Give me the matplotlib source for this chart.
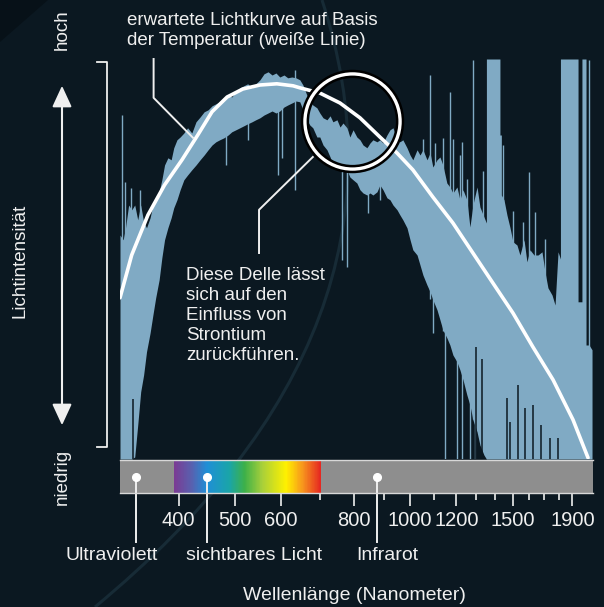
import matplotlib.pyplot as plt
import numpy as np
from matplotlib.colors import LinearSegmentedColormap
from matplotlib.patches import FancyArrowPatch, PathPatch, Polygon
from matplotlib.path import Path
from matplotlib.ticker import NullFormatter

plt.rcParams['font.family'] = ['Liberation Sans', 'DejaVu Sans']

BG = '#0b1821'
SPEC = '#80aac4'
TEXT = '#efefef'

# Gemessenes Spektrum als Band: Wellenlaenge (nm), obere / untere Kante (relative Intensitaet 0-100)
band_wl = [317, 321, 324, 328, 332, 336, 340, 344, 348, 352, 357, 361, 365, 370, 374,
           378, 383, 388, 392, 397, 402, 408, 414, 421, 428, 435, 442, 449, 456, 463,
           470, 478, 486, 493, 501, 509, 517, 525, 534, 542, 551, 560, 569, 578, 587,
           596, 606, 615, 625, 635, 645, 653, 663, 671, 679, 690, 698, 707, 718, 727,
           735, 747, 756, 765, 777, 786, 796, 808, 818, 828, 841, 851, 861, 875, 885,
           896, 910, 921, 932, 947, 958, 969, 985, 997, 1008, 1025, 1037, 1049, 1066, 1079,
           1091, 1109, 1122, 1135, 1153, 1167, 1181, 1200, 1214, 1229, 1248, 1263, 1278, 1299, 1314,
           1335, 1348, 1348, 1367, 1389, 1422, 1422, 1430, 1430, 1445, 1462, 1480, 1497, 1521, 1539,
           1564, 1582, 1601, 1627, 1653, 1679, 1699, 1719, 1747, 1768, 1789, 1806, 1806, 1839, 1875,
           1913, 1936, 1936, 1966, 1966, 1998, 1998, 2022, 2046]
band_top = [56, 54.8, 57.8, 63.5, 62.3, 63.5, 59.8, 63.5, 59.3, 57.8, 60.3, 63.5, 65.3, 66.8, 69.8,
            73.5, 75.3, 74.8, 77.8, 79.8, 80.5, 81.5, 82.8, 81.5, 84.3, 85.5, 86.8, 87.3, 88.3, 88.8,
            89.3, 90.3, 91, 90.5, 91.8, 92.8, 93.3, 93.8, 92.8, 93.8, 94.8, 96.3, 96.8, 96, 96.5,
            95.5, 96, 95.3, 95.5, 95.3, 94.8, 93.5, 91, 89.3, 88.5, 87.8, 86.5, 85.3, 84.8, 85.8,
            84.3, 84.8, 83, 84, 82.8, 80.5, 82.3, 80.5, 79.8, 78.5, 77.8, 79, 79.8, 79.3, 79.8,
            79, 81, 82.3, 82.8, 79.8, 79.3, 79.8, 77.8, 76, 74.8, 77.3, 76, 77.3, 74.8, 76.5,
            73, 74.8, 75.5, 73.5, 69, 68, 66.5, 68, 64.8, 67.3, 64.8, 58, 63.5, 68, 63,
            60.5, 59, 100, 100, 100, 100, 81, 81, 66, 64.8, 61, 57.8, 54.3, 53.5, 51,
            54.8, 49.3, 52.3, 51, 51, 51.8, 46.8, 42.8, 41, 38.5, 51.8, 50, 100, 100, 100,
            100, 100, 39.3, 39.3, 100, 100, 28.5, 28.5, 27.3]
band_bottom = [0, 0, 0, 0, 0, 0.5, 8.5, 16.8, 21, 26.8, 31.5, 36, 40.3, 44.8, 50.3,
               54.8, 57.8, 60.3, 62.8, 64.8, 67.3, 69.8, 71, 72.3, 73.5, 74.8, 76, 77.3, 78.5, 79.3,
               79.8, 80.3, 81, 81.8, 82.3, 82.8, 83.3, 83.8, 84.3, 84.8, 85.3, 86, 86.5, 87, 86.5,
               87, 88, 88.5, 89, 89.5, 89.3, 87.3, 84.8, 83.5, 82.8, 80.5, 80.5, 78.5, 77.3, 75.5,
               73.5, 72.8, 72.3, 71.8, 72.3, 70.5, 69.8, 69, 67.3, 66.5, 66, 66.5, 66, 66.8, 68.5,
               67.3, 65.3, 64.8, 63.5, 62.3, 61, 59.8, 57.8, 54.8, 52.3, 51, 48.5, 46, 43.5, 41.8,
               39.8, 37.3, 34.8, 32.3, 30.3, 28.5, 26, 24.3, 22.3, 19.8, 16, 13.5, 9.8, 6.8, 3.5,
               1, 0, 0, 0, 0, 0, 0, 0, 0, 0, 0, 0, 0, 0, 0,
               0, 0, 0, 0, 0, 0, 0, 0, 0, 0, 0, 0, 0, 0, 0,
               0, 0, 0, 0, 0, 0, 0, 0, 0]

# einzelne helle Linien (Rauschspitzen): Wellenlaenge, von, bis
spike_wl = [319, 323, 331, 343, 482, 525, 591, 601, 633, 761, 777, 844, 885, 947, 1049,
            1079, 1091, 1100, 1135, 1144, 1167, 1181, 1200, 1214, 1224, 1248, 1263, 1278, 1288, 1330,
            1439, 1497, 1558, 1595, 1633, 1700, 2018]
spike_lo = [54, 55, 60, 60, 73.5, 79.8, 71, 75.3, 67.3, 49.8, 48, 61.5, 64.8, 63, 50,
            40, 31.5, 60, 32, 0, 30, 40, 0, 30, 0, 20, 0, 10, 0, 20,
            0, 0, 0, 0, 0, 0, 0]
spike_hi = [86, 69.3, 67.8, 67.3, 89, 92, 95, 95, 97.3, 83, 82, 78, 79, 79, 80,
            96, 72, 79, 80.3, 40, 91.8, 80, 30, 76, 79.3, 70, 20, 99.8, 15, 72,
            78.5, 62, 59.3, 71.8, 61.8, 55, 99.8]

# dunkle Luecken im Band
gap_wl = [334, 1293, 1325, 1462, 1480, 1527, 1570, 1620, 1672, 1733, 1789]
gap_lo = [0, 0, 0, 0, 0, 0, 0, 0, 0, 0, 0]
gap_hi = [15, 28, 25, 15.3, 9.3, 18.5, 12.8, 13.5, 8.5, 5.3, 5.3]

# erwartete Lichtkurve (weisse Linie)
curve_wl = [317, 332, 354, 378, 405, 431, 456, 484, 515, 551, 589, 628, 645, 698, 756,
            818, 885, 947, 1008, 1091, 1181, 1278, 1383, 1497, 1620, 1754, 1898, 1974, 2014]
curve_val = [40.3, 51, 61, 68.5, 74.8, 81, 86.8, 90.5, 92.5, 93.5, 93.8, 93.3, 92.8, 91.5, 89,
             85.3, 80.5, 76.5, 72.3, 65.5, 59, 51.5, 44, 36.5, 28, 19.8, 9.8, 3.5, 0.3]

# Farbverlauf des sichtbaren Lichts
visible_nm = [392, 420, 447, 489, 519, 557, 612, 655, 703]
visible_colors = ['#7b3b93', '#5a5fae', '#1f8fd6', '#1aa5a8', '#3db049',
                  '#a8cf3a', '#fff100', '#f7941d', '#e52421']

major_ticks = [400, 500, 600, 800, 1000, 1200, 1500, 1900]
minor_ticks = [700, 900, 1100, 1300, 1400, 1600, 1700, 1800]

band_labels = ['Ultraviolett', 'sichtbares Licht', 'Infrarot']
band_label_wl = [338, 447, 878]

X_MIN, X_MAX = 317, 2062


def main():
    fig = plt.figure(figsize=(6.04, 6.07), dpi=100)
    fig.patch.set_facecolor(BG)

    # Ueberlagerung in Pixelkoordinaten fuer Beschriftungen am Rand
    ov = fig.add_axes([0, 0, 1, 1])
    ov.set_xlim(0, 604)
    ov.set_ylim(607, 0)
    ov.axis('off')
    ov.patch.set_facecolor('none')

    # dezenter Hintergrund: dunklere Ecke und heller Bogen
    ov.add_patch(Polygon([(0, 0), (48, 0), (0, 42)], closed=True, color='#071118', lw=0))
    arc = Path([(95, 607), (430, 330), (322, 0)], [Path.MOVETO, Path.CURVE3, Path.CURVE3])
    ov.add_patch(PathPatch(arc, fill=False, ec='#172b36', lw=2.2))

    ov.text(127, 12, 'erwartete Lichtkurve auf Basis\nder Temperatur (weiße Linie)',
            color=TEXT, fontsize=13.5, ha='left', va='top', linespacing=1.22)
    ov.text(186, 267, 'Diese Delle lässt\nsich auf den\nEinfluss von\nStrontium\nzurückführen.',
            color=TEXT, fontsize=13.5, ha='left', va='top', linespacing=1.24)
    ov.text(62, 30, 'hoch', color=TEXT, fontsize=13.5, rotation=90, ha='center', va='center')
    ov.text(62, 477, 'niedrig', color=TEXT, fontsize=13.5, rotation=90, ha='center', va='center')
    ov.text(20, 261, 'Lichtintensität', color=TEXT, fontsize=13.5, rotation=90,
            ha='center', va='center')
    ov.text(354, 596, 'Wellenlänge (Nanometer)', color=TEXT, fontsize=14,
            ha='center', va='center')
    for label, x in zip(band_labels, [112, 254, 387]):
        ov.text(x, 555, label, color=TEXT, fontsize=14, ha='center', va='center')

    ov.plot([97, 107, 107, 97], [62, 62, 447, 447], color=TEXT, lw=1.3)
    ov.add_patch(FancyArrowPatch((62, 83), (62, 428),
                                 arrowstyle='<|-|>,head_length=0.65,head_width=0.3',
                                 mutation_scale=20, color=TEXT, lw=1.5))

    # Spektrum
    ax = fig.add_axes([120 / 604, (607 - 459) / 607, 474 / 604, 400 / 607])
    ax.set_xscale('log')
    ax.set_xlim(X_MIN, X_MAX)
    ax.set_ylim(0, 100)
    ax.axis('off')
    ax.patch.set_facecolor('none')

    ax.fill_between(band_wl, band_bottom, band_top, color=SPEC, lw=0, zorder=1)
    ax.vlines(spike_wl, spike_lo, spike_hi, color=SPEC, lw=1.0, zorder=1)
    ax.vlines(gap_wl, gap_lo, gap_hi, color=BG, lw=1.1, zorder=1.5)
    ax.plot(curve_wl, curve_val, color='white', lw=2.6, solid_joinstyle='round',
            solid_capstyle='round', zorder=3)

    # Hinweislinien
    ax.plot([362, 362, 423], [100, 90.3, 80.3], color=TEXT, lw=1.4, clip_on=False, zorder=4)
    ax.plot([549, 549, 679], [51.5, 62.3, 75.5], color=TEXT, lw=1.4, clip_on=False, zorder=4)
    ax.plot([793], [84.5], marker='o', ms=68.5, mfc='none', mec='black', mew=6,
            clip_on=False, zorder=5)
    ax.plot([793], [84.5], marker='o', ms=68.5, mfc='none', mec='white', mew=2.4,
            clip_on=False, zorder=6)

    # Farbbalken
    bar = fig.add_axes([120 / 604, (607 - 493) / 607, 473 / 604, 33 / 607])
    bar.set_xscale('log')
    bar.set_xlim(X_MIN, X_MAX)
    bar.set_ylim(0, 1)
    bar.set_facecolor('#8e8e8e')
    edges = np.geomspace(visible_nm[0], visible_nm[-1], 300)
    mids = np.sqrt(edges[:-1] * edges[1:])
    lo, hi = np.log(visible_nm[0]), np.log(visible_nm[-1])
    pos = [(np.log(v) - lo) / (hi - lo) for v in visible_nm]
    cmap = LinearSegmentedColormap.from_list('visible', list(zip(pos, visible_colors)))
    vals = (np.log(mids) - lo) / (hi - lo)
    bar.pcolormesh(edges, [0, 1], vals[np.newaxis, :], cmap=cmap, vmin=0, vmax=1,
                   shading='flat', rasterized=True)

    for side in ['left', 'right']:
        bar.spines[side].set_visible(False)
    for side in ['top', 'bottom']:
        bar.spines[side].set_color('#d8d8d8')
        bar.spines[side].set_linewidth(1.0)
    bar.set_yticks([])
    bar.set_xticks(major_ticks)
    bar.set_xticklabels([str(t) for t in major_ticks])
    bar.set_xticks(minor_ticks, minor=True)
    bar.xaxis.set_minor_formatter(NullFormatter())
    bar.tick_params(axis='x', which='major', length=9.5, width=1.2, color=TEXT,
                    labelcolor=TEXT, labelsize=14.5, pad=3.5)
    bar.tick_params(axis='x', which='minor', length=5, width=1.2, color=TEXT)

    trans = bar.get_xaxis_transform()
    for x in band_label_wl:
        bar.plot([x, x], [0.5, -1.48], color=TEXT, lw=1.4, transform=trans, clip_on=False)
        bar.plot([x], [0.5], marker='o', ms=5.5, color='white', transform=trans, clip_on=False)

    plt.savefig('out.png', dpi=100, facecolor=BG)


if __name__ == '__main__':
    main()
